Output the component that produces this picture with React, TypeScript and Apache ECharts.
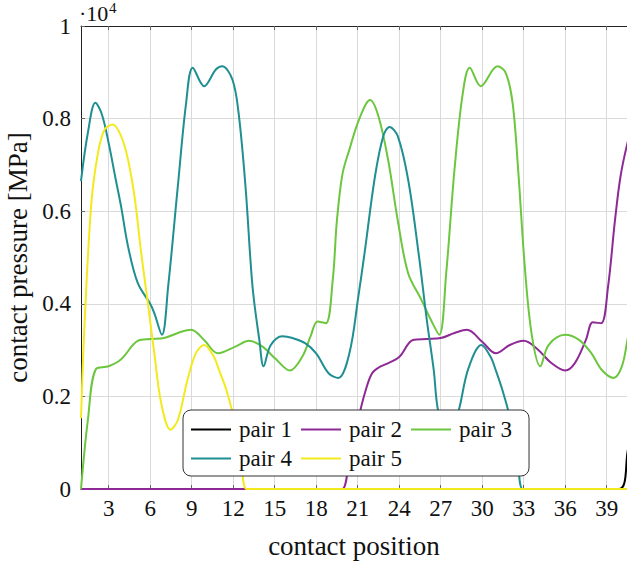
import React, { useEffect, useRef } from 'react';
import * as echarts from 'echarts';

const xTicks = [3, 6, 9, 12, 15, 18, 21, 24, 27, 30, 33, 36, 39];
const xMin = 1;
const xMax = 40.47;
const yMin = 0;
const yMax = 10000;
const yStep = 2000;
const seriesNames = ['pair 1', 'pair 2', 'pair 3', 'pair 4', 'pair 5'];
const seriesColors = ['#000000', '#8e2a96', '#6cc63e', '#1f8f92', '#f3ea1d'];

// [contact position, contact pressure in MPa]
const pair1: [number, number][] = [
  [1, 0], [39.9, 0], [40.5, 780], [41, 2000],
];
const pair2: [number, number][] = [
  [1, 0], [19, 0], [19.5, 0], [19.9, 0], [20.5, 800], [21, 1450], [21.5, 2050], [22, 2480],
  [22.5, 2620], [23, 2690], [24, 2850], [25, 3220], [26, 3240], [27, 3260], [28, 3370],
  [28.9, 3440], [30, 3180], [31, 2930], [32, 3110], [33, 3200], [34, 3020], [35, 2720],
  [36, 2560], [36.7, 2720], [37.5, 3220], [38, 3600], [38.6, 3580], [39.1, 4370],
  [39.6, 5800], [40, 6750], [40.5, 7470], [41, 8000],
];
const pair3: [number, number][] = [
  [1, 0], [1.5, 1500], [2.1, 2600], [3, 2650], [3.9, 2800], [5.1, 3200], [6, 3240],
  [7, 3260], [8, 3370], [8.96, 3440], [9.9, 3220], [10.9, 2930], [12.2, 3080],
  [13.15, 3200], [14.1, 3080], [15.1, 2800], [16.1, 2560], [17, 2860], [17.6, 3300],
  [18.1, 3620], [18.7, 3580], [19.2, 4520], [19.5, 5800], [19.9, 6800], [20.4, 7330],
  [21.1, 7980], [21.9, 8400], [22.5, 8050], [23.2, 7110], [23.9, 5800], [24.65, 4660],
  [25.6, 4090], [26.3, 3650], [26.9, 3330], [27.4, 4660], [28, 6900], [28.6, 8550],
  [29.1, 9100], [29.9, 8700], [31.1, 9130], [31.7, 8990], [32.2, 8340], [32.6, 6900],
  [33.1, 4730], [33.6, 3300], [34.2, 2650], [34.8, 3110], [36, 3330], [37, 3220],
  [37.9, 2930], [38.65, 2570], [39.5, 2400], [40.1, 2650], [40.5, 3220], [41, 4000],
];
const pair4: [number, number][] = [
  [1, 6650], [1.5, 7700], [2.04, 8340], [2.5, 8100], [3, 7470], [3.5, 6700], [3.9, 6100],
  [4.4, 5240], [5.1, 4450], [6, 4000], [6.3, 3800], [6.85, 3330], [7.3, 4370], [8, 6540],
  [8.6, 8340], [9.08, 9100], [9.9, 8700], [10.75, 9060], [11.2, 9130], [11.95, 8840],
  [12.4, 8100], [12.9, 6500], [13.4, 4370], [13.9, 3200], [14.2, 2650], [14.7, 3100],
  [15.55, 3300], [16.3, 3260], [17.2, 3150], [18, 2930], [18.9, 2500], [19.6, 2400],
  [20.4, 2930], [21.05, 4160], [21.5, 5100], [22.25, 6750], [22.85, 7620], [23.3, 7820],
  [23.9, 7620], [24.65, 6680], [25.4, 5100], [26, 3650], [26.5, 2570], [26.83, 1670],
  [27.55, 1100], [28.28, 1670], [29, 2600], [29.95, 3110], [30.6, 2860], [31, 2550],
  [31.5, 2100], [32, 1550], [32.5, 800], [32.93, 0], [33.5, 0], [41, 0],
];
const pair5: [number, number][] = [
  [1, 1530], [1.27, 3650], [1.75, 6180], [2.23, 7260], [2.7, 7760], [3.3, 7870],
  [3.9, 7620], [4.4, 7110], [4.9, 6250], [5.35, 5100], [5.84, 4000], [6.3, 2930],
  [6.8, 1850], [7.47, 1280], [8, 1490], [8.7, 2360], [9.3, 2930], [9.9, 3110],
  [10.6, 2860], [11, 2550], [11.5, 2150], [11.95, 1650], [12.5, 800], [12.95, 0],
  [13.5, 0], [41, 0],
];
const seriesData = [pair1, pair2, pair3, pair4, pair5];

const FONT = "'Liberation Serif', 'Times New Roman', serif";

export default function App() {
  const ref = useRef<HTMLDivElement>(null);
  useEffect(() => {
    if (!ref.current) return;
    const chart = echarts.init(ref.current, null, { renderer: 'svg' });
    chart.setOption({
      animation: false,
      backgroundColor: '#ffffff',
      textStyle: { fontFamily: FONT },
      grid: {
        left: 81,
        top: 26,
        right: 0,
        bottom: 78,
        show: false,
        containLabel: false,
        outerBoundsMode: 'none',
      },
      xAxis: [
        {
          type: 'value',
          min: xMin,
          max: xMax,
          axisLine: { show: true, onZero: false, lineStyle: { color: '#222', width: 1 } },
          axisTick: {
            show: true,
            inside: true,
            length: 4,
            customValues: xTicks,
            lineStyle: { color: '#666' },
          },
          axisLabel: {
            customValues: xTicks,
            fontSize: 23,
            color: '#111',
            margin: 8,
            fontFamily: FONT,
          },
          splitLine: { show: true, lineStyle: { color: '#dadada', width: 1 } },
          name: 'contact position',
          nameLocation: 'middle',
          nameGap: 43,
          nameTextStyle: { fontSize: 27, color: '#111', fontFamily: FONT },
        },
        {
          type: 'value',
          position: 'top',
          min: xMin,
          max: xMax,
          axisLine: { show: true, onZero: false, lineStyle: { color: '#222', width: 1 } },
          axisTick: {
            show: true,
            inside: true,
            length: 4,
            customValues: xTicks,
            lineStyle: { color: '#666' },
          },
          axisLabel: { show: false },
          splitLine: { show: false },
        },
      ],
      yAxis: {
        type: 'value',
        min: yMin,
        max: yMax,
        interval: yStep,
        axisLine: { show: true, onZero: false, lineStyle: { color: '#222', width: 1 } },
        axisTick: { show: true, inside: true, length: 4, lineStyle: { color: '#666' } },
        axisLabel: {
          fontSize: 23,
          color: '#111',
          margin: 10,
          fontFamily: FONT,
          formatter: (v: number) => String(v / 10000),
        },
        splitLine: { show: true, lineStyle: { color: '#dadada', width: 1 } },
        name: 'contact pressure [MPa]',
        nameLocation: 'middle',
        nameGap: 35,
        nameTextStyle: { fontSize: 27, color: '#111', fontFamily: FONT },
      },
      legend: {
        left: 183,
        top: 410,
        width: 330,
        orient: 'horizontal',
        padding: [8, 14, 6, 8],
        icon: 'rect',
        itemWidth: 40,
        itemHeight: 2,
        itemGap: 6,
        borderColor: '#333',
        borderWidth: 1,
        borderRadius: 8,
        backgroundColor: '#ffffff',
        textStyle: {
          fontSize: 23,
          color: '#111',
          fontFamily: FONT,
          lineHeight: 19,
          padding: [0, 3, 0, 3],
        },
        data: seriesNames,
      },
      graphic: [
        {
          type: 'text',
          left: 79,
          top: 2,
          style: { text: '·10', fontSize: 22, fill: '#111', fontFamily: FONT },
        },
        {
          type: 'text',
          left: 109,
          top: 0,
          style: { text: '4', fontSize: 15, fill: '#111', fontFamily: FONT },
        },
      ],
      series: seriesNames.map((name, i) => ({
        name,
        type: 'line',
        data: seriesData[i],
        smooth: 0.35,
        symbol: 'none',
        showSymbol: false,
        clip: true,
        lineStyle: { width: 2, color: seriesColors[i] },
        itemStyle: { color: seriesColors[i] },
      })),
    });
    return () => chart.dispose();
  }, []);
  return (
    <div
      ref={ref}
      style={{ position: 'fixed', left: 0, top: 0, width: 627, height: 567 }}
    />
  );
}
